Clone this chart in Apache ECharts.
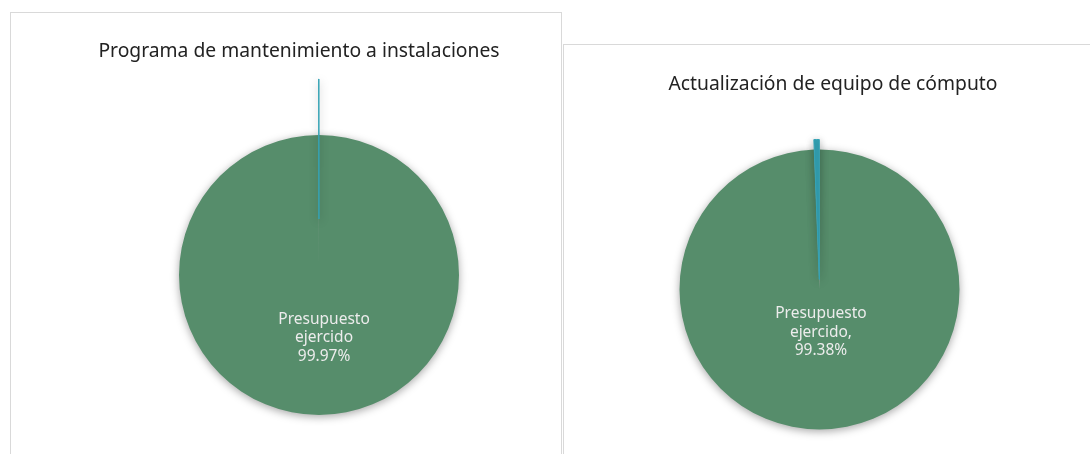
<!DOCTYPE html>
<html>
<head>
<meta charset="utf-8">
<script src="https://cdn.jsdelivr.net/npm/echarts@6/dist/echarts.min.js"></script>
<style>
  html, body { margin: 0; padding: 0; background: #fff; }
  #wrap { position: relative; width: 1090px; height: 454px; overflow: hidden; }
  .box { position: absolute; border: 1px solid #d9d9d9; background: #fff; }
  #chart { position: absolute; left: 0; top: 0; width: 1090px; height: 454px; }
</style>
</head>
<body>
<div id="wrap">
  <div class="box" style="left:10px; top:12px; width:550px; height:460px;"></div>
  <div class="box" style="left:563px; top:44px; width:540px; height:430px;"></div>
  <div id="chart"></div>
</div>
<script>
  // datos de las dos graficas
  var titulos = ['Programa de mantenimiento a instalaciones', 'Actualización de equipo de cómputo']
  var nombres = ['Presupuesto ejercido', 'Presupuesto no ejercido']
  var valoresMantenimiento = [99.97, 0.03]
  var valoresComputo = [99.38, 0.62]
  var etiquetas = ['Presupuesto\nejercido\n{d}%', 'Presupuesto\nejercido,\n{d}%']

  var verde = '#568d6b'
  var azul = '#33a2b4'
  var fuente = 'Noto Sans'

  function armarDatos(valores) {
    return [
      {
        value: valores[0], name: nombres[0],
        itemStyle: {color: verde},
        select: {itemStyle: {color: verde}}
      },
      {
        value: valores[1], name: nombres[1], selected: true,
        itemStyle: {color: azul, borderColor: azul, borderWidth: 1},
        select: {itemStyle: {color: azul, borderColor: azul, borderWidth: 1}},
        label: {show: false}
      }
    ]
  }

  function serie(valores, centro, offset, formato, dx, dy) {
    return {
      type: 'pie',
      radius: 140,
      center: centro,
      startAngle: 90,
      clockwise: true,
      selectedMode: 'single',
      selectedOffset: offset,
      silent: true,
      itemStyle: {
        shadowBlur: 9,
        shadowOffsetY: 2,
        shadowColor: 'rgba(0,0,0,0.35)'
      },
      label: {
        show: true,
        position: 'inside',
        formatter: formato,
        color: '#ececec',
        fontFamily: fuente,
        fontSize: 15.5,
        lineHeight: 18.5,
        align: 'center'
      },
      labelLine: {show: false},
      labelLayout: {dx: dx, dy: dy},
      data: armarDatos(valores)
    }
  }

  var chart = echarts.init(document.getElementById('chart'))
  chart.setOption({
    animation: false,
    title: [
      {
        text: titulos[0], left: 294, top: 37, textAlign: 'center',
        textStyle: {fontFamily: fuente, fontSize: 19.3, fontWeight: 'normal', color: '#222'}
      },
      {
        text: titulos[1], left: 828, top: 70, textAlign: 'center',
        textStyle: {fontFamily: fuente, fontSize: 19.3, fontWeight: 'normal', color: '#222'}
      }
    ],
    series: [
      serie(valoresMantenimiento, [319, 275], 56, etiquetas[0], 5, -10),
      serie(valoresComputo, [819.5, 289.5], 10, etiquetas[1], 0, -30)
    ]
  })
</script>
</body>
</html>
